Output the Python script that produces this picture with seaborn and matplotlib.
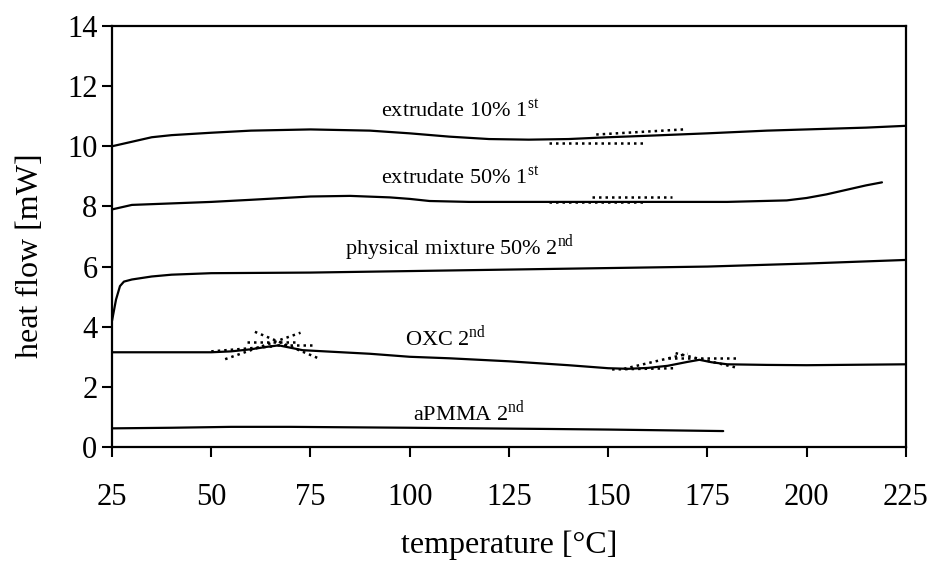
import numpy as np
import pandas as pd
import matplotlib
matplotlib.use('Agg')
import matplotlib.pyplot as plt
import seaborn as sns

# DSC-Kurven
t_ext10 = [25, 30, 35, 40, 50, 60, 75, 90, 100, 110, 120, 130, 140, 150, 160, 175, 190, 200, 215, 225]
hf_ext10 = [10.0, 10.15, 10.3, 10.37, 10.45, 10.52, 10.56, 10.52, 10.43, 10.32, 10.24, 10.22, 10.24, 10.3, 10.35, 10.43, 10.52, 10.56, 10.62, 10.68]

t_ext50 = [25, 30, 40, 50, 60, 75, 85, 95, 100, 105, 115, 150, 180, 195, 200, 205, 210, 215, 219]
hf_ext50 = [7.9, 8.05, 8.1, 8.15, 8.22, 8.33, 8.35, 8.3, 8.25, 8.18, 8.15, 8.15, 8.15, 8.2, 8.28, 8.4, 8.55, 8.7, 8.8]

t_phys = [25, 26, 27, 28, 30, 35, 40, 50, 75, 100, 125, 150, 175, 200, 225]
hf_phys = [4.2, 4.9, 5.35, 5.5, 5.57, 5.67, 5.73, 5.78, 5.8, 5.85, 5.9, 5.95, 6.0, 6.1, 6.22]

t_oxc = [25, 40, 50, 55, 60, 64, 67, 70, 73, 80, 90, 100, 110, 125, 140, 150, 155, 160, 165, 170, 173, 176, 180, 190, 200, 225]
hf_oxc = [3.15, 3.15, 3.15, 3.18, 3.25, 3.33, 3.38, 3.3, 3.22, 3.17, 3.1, 3.0, 2.95, 2.85, 2.72, 2.62, 2.6, 2.63, 2.7, 2.83, 2.9, 2.82, 2.75, 2.73, 2.72, 2.75]

t_pmma = [25, 40, 55, 70, 100, 135, 150, 179]
hf_pmma = [0.62, 0.64, 0.67, 0.67, 0.64, 0.6, 0.58, 0.53]

# Tangenten (gepunktet): (x0, x1, y0, y1)
tangents = [
    (135, 159, 10.1, 10.1),
    (147, 169, 10.39, 10.56),
    (135, 159, 8.14, 8.14),
    (146, 166, 8.3, 8.3),
    (53.5, 72.5, 2.92, 3.8),
    (61, 77, 3.83, 2.95),
    (50, 66, 3.18, 3.35),
    (59, 71, 3.5, 3.5),
    (66.5, 76, 3.4, 3.4),
    (151, 167, 2.58, 2.62),
    (154, 170, 2.6, 3.1),
    (167, 182, 3.12, 2.65),
    (165, 183, 2.95, 2.95),
]

labels = ['extrudate 10% 1$^{\\mathrm{st}}$', 'extrudate 50% 1$^{\\mathrm{st}}$',
          'physical mixture 50% 2$^{\\mathrm{nd}}$', 'OXC 2$^{\\mathrm{nd}}$', 'aPMMA 2$^{\\mathrm{nd}}$']
label_x = [112.7, 112.7, 112.7, 109, 115]
label_y = [11.2, 8.95, 6.6, 3.65, 1.15]

sns.set_style('ticks')
plt.rcParams['font.family'] = ['Liberation Serif', 'DejaVu Serif']
plt.rcParams['mathtext.fontset'] = 'custom'
plt.rcParams['mathtext.rm'] = 'Liberation Serif'

fig, ax = plt.subplots(figsize=(9.29, 5.61), dpi=100)
fig.subplots_adjust(left=0.1206, right=0.975, top=0.9537, bottom=0.2032)

curves = [(t_ext10, hf_ext10), (t_ext50, hf_ext50), (t_phys, hf_phys), (t_oxc, hf_oxc), (t_pmma, hf_pmma)]
for t, hf in curves:
    df = pd.DataFrame({'T': t, 'hf': hf})
    sns.lineplot(data=df, x='T', y='hf', ax=ax, color='black', linewidth=1.6, sort=False)

for x0, x1, y0, y1 in tangents:
    ax.plot([x0, x1], [y0, y1], color='black', linewidth=1.8, linestyle=(0, (1, 1.6)))

for lab, lx, ly in zip(labels, label_x, label_y):
    ax.text(lx, ly, lab, ha='center', va='center', fontsize=16, color='black')

ax.set_xlim(25, 225)
ax.set_ylim(0, 14)
ax.set_xticks(np.arange(25, 226, 25))
ax.set_yticks(np.arange(0, 15, 2))
ax.set_xlabel('temperature [°C]', fontsize=23, labelpad=13, color='black')
ax.set_ylabel('heat flow [mW]', fontsize=23, color='black')
ax.yaxis.set_label_coords(-0.085, 0.455)
ax.tick_params(axis='both', direction='out', length=7, width=1.5, labelsize=22, colors='black')
ax.tick_params(axis='x', pad=19)
for s in ax.spines.values():
    s.set_visible(True)
    s.set_linewidth(1.6)
    s.set_color('black')

plt.savefig('out.png', dpi=100)
plt.close()
